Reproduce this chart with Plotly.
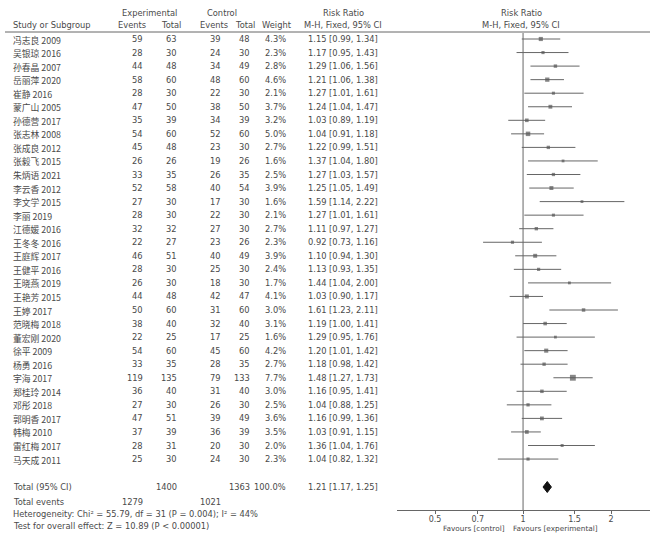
import plotly.graph_objects as go

studies = ["冯志良 2009", "吴银琼 2016", "孙春晶 2007", "岳丽萍 2020", "崔静 2016", "蒙广山 2005",
           "孙德营 2017", "张志林 2008", "张成良 2012", "张毅飞 2015", "朱炳语 2021", "李云香 2012",
           "李文学 2015", "李丽 2019", "江德媛 2016", "王冬冬 2016", "王庭辉 2017", "王健平 2016",
           "王晓燕 2019", "王艳芳 2015", "王婷 2017", "范晓梅 2018", "董宏刚 2020", "徐平 2009",
           "杨勇 2016", "宇海 2017", "郑桂玲 2014", "邓彤 2018", "郭明香 2017", "韩梅 2010",
           "雷红梅 2017", "马天成 2011"]
exp_events = [59, 28, 44, 58, 28, 47, 35, 54, 45, 26, 33, 52, 27, 28, 32, 22, 46, 28, 26, 44, 50, 38,
              22, 54, 33, 119, 36, 27, 47, 37, 28, 25]
exp_total = [63, 30, 48, 60, 30, 50, 39, 60, 48, 26, 35, 58, 30, 30, 32, 27, 51, 30, 30, 48, 60, 40,
             25, 60, 35, 135, 40, 30, 51, 39, 31, 30]
ctl_events = [39, 24, 34, 48, 22, 38, 34, 52, 23, 19, 26, 40, 17, 22, 27, 23, 40, 25, 18, 42, 31, 32,
              17, 45, 28, 79, 31, 26, 39, 36, 20, 24]
ctl_total = [48, 30, 49, 60, 30, 50, 39, 60, 30, 26, 35, 54, 30, 30, 30, 26, 49, 30, 30, 47, 60, 40,
             25, 60, 35, 133, 40, 30, 49, 39, 30, 30]
weights = [4.3, 2.3, 2.8, 4.6, 2.1, 3.7, 3.2, 5.0, 2.7, 1.6, 2.5, 3.9, 1.6, 2.1, 2.7, 2.3, 3.9, 2.4,
           1.7, 4.1, 3.0, 3.1, 1.6, 4.2, 2.7, 7.7, 3.0, 2.5, 3.6, 3.5, 2.0, 2.3]
rr = [1.15, 1.17, 1.29, 1.21, 1.27, 1.24, 1.03, 1.04, 1.22, 1.37, 1.27, 1.25, 1.59, 1.27, 1.11, 0.92,
      1.10, 1.13, 1.44, 1.03, 1.61, 1.19, 1.29, 1.20, 1.18, 1.48, 1.16, 1.04, 1.16, 1.03, 1.36, 1.04]
ci_lo = [0.99, 0.95, 1.06, 1.06, 1.01, 1.04, 0.89, 0.91, 0.99, 1.04, 1.03, 1.05, 1.14, 1.01, 0.97, 0.73,
         0.94, 0.93, 1.04, 0.90, 1.23, 1.00, 0.95, 1.01, 0.98, 1.27, 0.95, 0.88, 0.99, 0.91, 1.04, 0.82]
ci_hi = [1.34, 1.43, 1.56, 1.38, 1.61, 1.47, 1.19, 1.18, 1.51, 1.80, 1.57, 1.49, 2.22, 1.61, 1.27, 1.16,
         1.30, 1.35, 2.00, 1.17, 2.11, 1.41, 1.76, 1.42, 1.42, 1.73, 1.41, 1.25, 1.36, 1.15, 1.76, 1.32]

total_exp, total_ctl = 1400, 1363
total_ev_exp, total_ev_ctl = 1279, 1021
total_rr, total_lo, total_hi = 1.21, 1.17, 1.25
tick_vals = [0.5, 0.7, 1, 1.5, 2]
tick_text = ["0.5", "0.7", "1", "1.5", "2"]

W, H = 653, 541
FONT = "DejaVu Sans, Verdana, sans-serif"
CJK = "Noto Sans CJK SC, sans-serif"
TXT = "#4a4a4a"
LINE = "#666666"
FS = 8.3

row_y0, row_dy = 39, 13.55
ys = [row_y0 + i * row_dy for i in range(len(studies))]
y_total = 487
AXIS_Y = 510


def py(p):
    return 1 - p / H


def px(p):
    return p / W


ann = []


def txt(x, y, s, anchor="left", font=FONT, size=FS):
    ann.append(dict(x=px(x), y=py(y), xref="paper", yref="paper", text=s, showarrow=False,
                    xanchor=anchor, yanchor="middle", font=dict(family=font, size=size, color=TXT)))


# headers
txt(149, 13, "Experimental", "center")
txt(222, 13, "Control", "center")
txt(343, 13, "Risk Ratio", "center")
txt(521, 13, "Risk Ratio", "center")
txt(11, 25, "Study or Subgroup")
txt(148, 25, "Events", "right")
txt(183, 25, "Total", "right")
txt(230, 25, "Events", "right")
txt(257, 25, "Total", "right")
txt(294, 25, "Weight", "right")
txt(343, 25, "M-H, Fixed, 95% CI", "center")
txt(521, 25, "M-H, Fixed, 95% CI", "center")

for i, s in enumerate(studies):
    y = ys[i]
    txt(11, y + 1, s, font=CJK, size=8.8)
    txt(145, y, str(exp_events[i]), "right")
    txt(179, y, str(exp_total[i]), "right")
    txt(223, y, str(ctl_events[i]), "right")
    txt(252, y, str(ctl_total[i]), "right")
    txt(288, y, f"{weights[i]:.1f}%", "right")
    txt(306, y, f"{rr[i]:.2f} [{ci_lo[i]:.2f}, {ci_hi[i]:.2f}]")

txt(11, y_total, "Total (95% CI)")
txt(179, y_total, str(total_exp), "right")
txt(252, y_total, str(total_ctl), "right")
txt(288, y_total, "100.0%", "right")
txt(306, y_total, f"{total_rr:.2f} [{total_lo:.2f}, {total_hi:.2f}]")
txt(11, 502, "Total events")
txt(145, 502, str(total_ev_exp), "right")
txt(223, 502, str(total_ev_ctl), "right")
txt(11, 514, "Heterogeneity: Chi² = 55.79, df = 31 (P = 0.004); I² = 44%")
txt(11, 526, "Test for overall effect: Z = 10.89 (P < 0.00001)")
txt(507, 528, "Favours [control]", "right", size=7.3)
txt(511, 528, "Favours [experimental]", "left", size=7.3)

fig = go.Figure()

# study CIs and squares
fig.add_trace(go.Scatter(
    x=rr, y=ys, mode="markers",
    marker=dict(symbol="square", size=[2 + 0.5 * w for w in weights], color="#555555",
                line=dict(width=0)),
    error_x=dict(type="data", symmetric=False,
                 array=[h - r for h, r in zip(ci_hi, rr)],
                 arrayminus=[r - l for r, l in zip(rr, ci_lo)],
                 width=0, thickness=1, color=LINE),
    cliponaxis=False, hoverinfo="skip", showlegend=False))

# total diamond
fig.add_trace(go.Scatter(
    x=[total_lo, total_rr, total_hi, total_rr, total_lo],
    y=[y_total, y_total - 5.5, y_total, y_total + 5.5, y_total],
    mode="lines", fill="toself", fillcolor="#111111", line=dict(color="#111111", width=1),
    hoverinfo="skip", showlegend=False))

shapes = [
    dict(type="line", xref="paper", yref="paper", x0=px(5), x1=px(650), y0=py(32), y1=py(32),
         line=dict(color=LINE, width=1)),
    dict(type="line", xref="x", yref="paper", x0=1, x1=1, y0=py(33), y1=py(AXIS_Y),
         line=dict(color=LINE, width=1)),
]

fig.update_layout(
    width=W, height=H, margin=dict(l=0, r=0, t=0, b=0),
    paper_bgcolor="white", plot_bgcolor="white",
    xaxis=dict(type="log", domain=[397 / W, 650 / W], range=[-0.431, 0.434],
               tickvals=tick_vals, ticktext=tick_text, showgrid=False, zeroline=False,
               showline=True, linecolor=LINE, linewidth=1, ticks="outside", ticklen=3,
               tickcolor=LINE, tickfont=dict(family=FONT, size=8, color=TXT),
               ticklabelstandoff=-2, automargin=False),
    yaxis=dict(domain=[(H - AXIS_Y) / H, 1], range=[AXIS_Y, 0], visible=False,
               showgrid=False, zeroline=False, automargin=False),
    annotations=ann, shapes=shapes, showlegend=False,
)

fig.write_html("out.html", config={"displayModeBar": False},
               post_script="document.body.style.margin='0';document.body.style.padding='0';")
